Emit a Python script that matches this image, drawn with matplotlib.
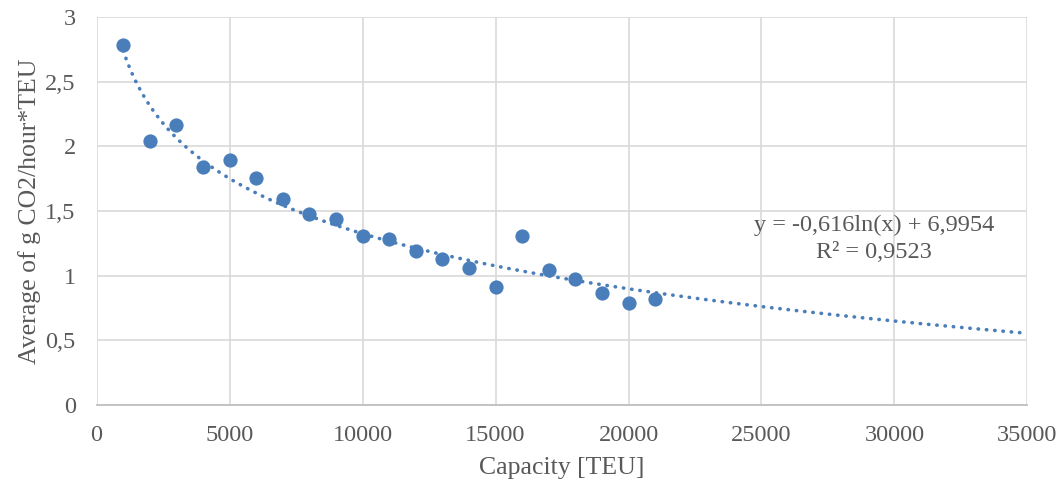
import numpy as np
import matplotlib
matplotlib.use("Agg")
import matplotlib.pyplot as plt
from matplotlib.ticker import FuncFormatter

capacity = [1000, 2000, 3000, 4000, 5000, 6000, 7000, 8000, 9000, 10000,
            11000, 12000, 13000, 14000, 15000, 16000, 17000, 18000, 19000, 20000, 21000]
co2 = [2.78, 2.04, 2.165, 1.84, 1.895, 1.755, 1.59, 1.475, 1.435, 1.307,
       1.282, 1.19, 1.128, 1.06, 0.913, 1.307, 1.044, 0.974, 0.866, 0.79, 0.82]
x_ticks = [0, 5000, 10000, 15000, 20000, 25000, 30000, 35000]
y_ticks = [0, 0.5, 1, 1.5, 2, 2.5, 3]
eq_text = "y = -0,616ln(x) + 6,9954"
r2_text = "R² = 0,9523"

plt.rcParams['font.family'] = ['Liberation Serif', 'DejaVu Serif']
txt = '#595959'
blue = '#4A7EBB'

fig = plt.figure(figsize=(10.61, 4.84), dpi=100)
ax = fig.add_axes([0.091, 0.163, 0.8774, 0.802])

ax.set_xlim(0, 35000)
ax.set_ylim(0, 3)
ax.set_xticks(x_ticks)
ax.set_yticks(y_ticks)
ax.yaxis.set_major_formatter(FuncFormatter(lambda v, p: ('%g' % v).replace('.', ',')))
ax.xaxis.set_major_formatter(FuncFormatter(lambda v, p: '%d' % v))
ax.grid(True, color='#D9D9D9', linewidth=1.2)
ax.set_axisbelow(True)
for s in ['top', 'right', 'left']:
    ax.spines[s].set_visible(False)
ax.spines['bottom'].set_color('#BFBFBF')
ax.spines['bottom'].set_linewidth(1.3)
ax.tick_params(length=0, labelsize=17.5, colors=txt)
ax.tick_params(axis='y', pad=15)
ax.tick_params(axis='x', pad=14)

# logarithmic trendline fitted from data
a, b = np.polyfit(np.log(capacity), co2, 1)
xs = np.linspace(min(capacity), 35000, 400)
ax.plot(xs, a * np.log(xs) + b, color=blue, linewidth=2.6,
        linestyle=(0, (0.1, 2.2)), dash_capstyle='round', zorder=2)

ax.scatter(capacity, co2, s=105, color=blue, zorder=3, linewidths=0)

ax.text(29230, 1.392, eq_text, ha='center', va='center', fontsize=17.5, color=txt)
ax.text(29230, 1.176, r2_text, ha='center', va='center', fontsize=17.5, color=txt)

ax.set_xlabel('Capacity [TEU]', fontsize=18.5, color=txt, labelpad=8)
ax.set_ylabel('Average of g CO2/hour*TEU', fontsize=18.5, color=txt, labelpad=3)

fig.savefig('out.png', dpi=100)
